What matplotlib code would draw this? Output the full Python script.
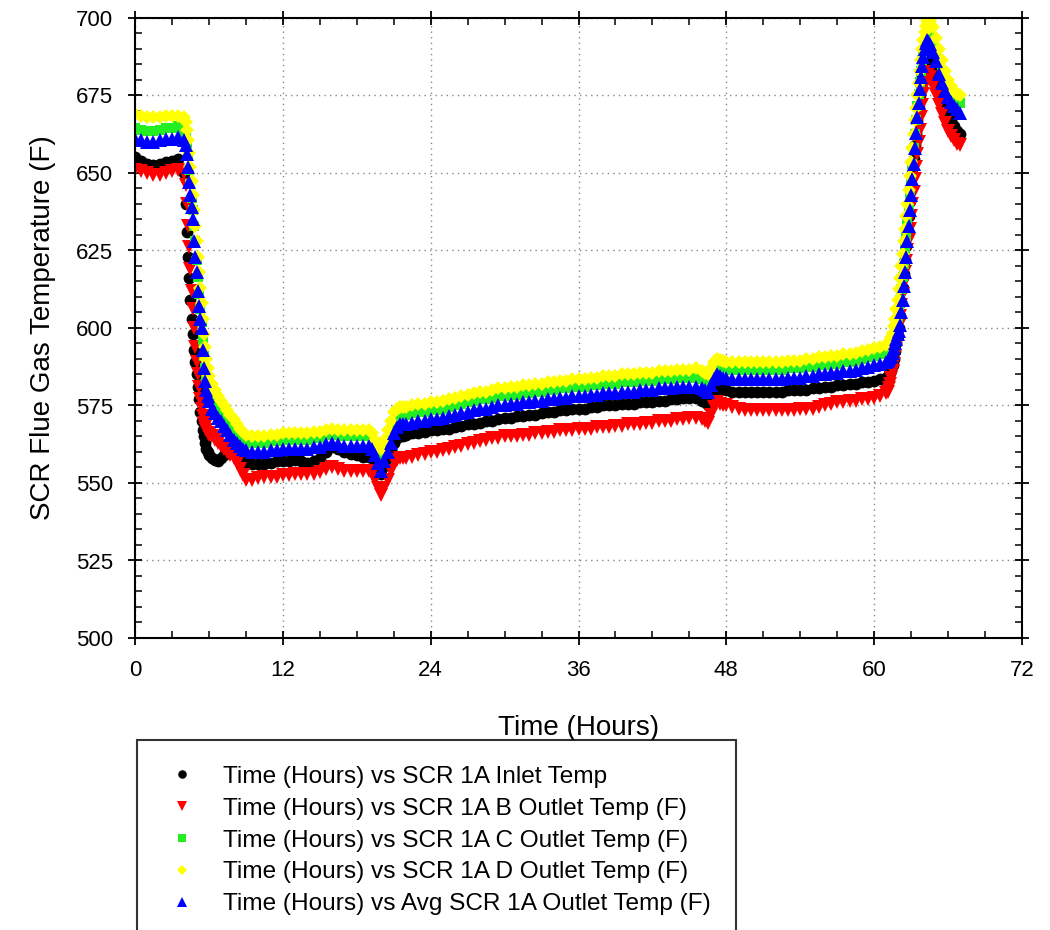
import numpy as np
import matplotlib
matplotlib.use("Agg")
import matplotlib.pyplot as plt
from matplotlib.ticker import MultipleLocator

plt.rcParams['font.family'] = ['Liberation Sans', 'DejaVu Sans']

# Sample times (hours): coarse on the plateaus, fine on the ramps and dips
hours = np.concatenate([
    np.arange(0, 4.0, 0.5),
    np.arange(4.0, 6.05, 0.1),
    np.arange(6.25, 9.01, 0.25),
    np.arange(9.5, 19.01, 0.5),
    np.arange(19.25, 21.76, 0.25),
    np.arange(22.0, 46.01, 0.5),
    np.arange(46.25, 47.76, 0.25),
    np.arange(48.0, 61.01, 0.5),
    np.arange(61.1, 64.45, 0.1),
    np.arange(64.5, 67.01, 0.25),
]).round(2)

inlet_temp = [
    655, 654, 653, 652.5, 653, 653.5, 654, 654.5,
    650, 640, 631, 623, 616, 609, 603, 598, 593, 589, 585, 581, 577, 573, 570, 567, 565, 563, 561, 560, 559,
    558, 557.5, 557, 558, 559, 560, 560, 560, 559, 558, 557, 556.5,
    556, 556, 556, 556.5, 557, 557, 557, 557.5, 557, 556.5,
    557, 558, 560, 561.5, 561, 560, 559.5, 559, 558.5, 558.5,
    558, 557, 555, 553, 555.5, 558, 560.5, 563, 564.5, 565, 565.3,
    565.5, 566, 566, 566.5, 567, 567, 567.5, 567.5, 568, 568.5,
    569, 569, 569.5, 570, 570, 570.5, 571, 571, 571.5, 571.5,
    572, 572, 572.5, 573, 573, 573.5, 573.5, 574, 574, 574,
    574.5, 574.5, 575, 575, 575, 575.5, 575.5, 575.5, 576, 576,
    576, 576.5, 576.5, 577, 577, 577.5, 577.5, 577.5, 576.5,
    576, 575, 576.5, 578, 579.5, 580.5, 580.3,
    580, 579.5, 579.5, 579.5, 579.5, 579.5, 579.5, 579.5, 579.5, 579.5,
    580, 580, 580, 580, 580.5, 580.5, 581, 581, 581.5, 581.5,
    582, 582, 582.5, 582.5, 583, 583.5, 584,
    584.5, 585, 585.5, 586.5, 588, 590, 592.5, 595, 597.5, 600, 604, 608.5, 613, 617.5, 622, 626.5, 631,
    636, 641, 645.5, 650, 654.5, 659, 663, 667, 671, 675, 678.5, 681.5, 684, 686, 687.5, 688, 687.5,
    686.5, 684, 681, 678, 675, 672, 669, 667, 665, 663.5, 662.5,
]

b_outlet = [
    651, 650.5, 650, 649.5, 649.5, 650, 650.5, 651,
    650, 646, 640, 633, 626, 619, 612, 606, 600, 594, 589, 585, 581, 577, 574, 571.5, 569.5, 568, 567, 566, 565.5,
    565, 564, 563, 562, 561, 560, 559, 558, 556.5, 554.5, 552.5, 551,
    551, 551.5, 552, 552, 552, 552.5, 552.5, 553, 553, 553,
    553, 553.5, 554.5, 555, 554.5, 554, 554, 554, 554, 554,
    553, 551, 548.5, 546, 548.5, 551, 554, 557, 557.5, 558, 558,
    558, 558.5, 559, 559.5, 560, 560, 560.5, 561, 561.5, 562,
    562.5, 563, 563.5, 564, 564.5, 564.5, 565, 565, 565, 565.5,
    565.5, 566, 566, 566.5, 566.5, 567, 567, 567, 567.5, 567.5,
    567.5, 568, 568, 568, 568.5, 568.5, 569, 569, 569, 569.5,
    569.5, 570, 570, 570, 570.5, 570.5, 571, 571, 570.5,
    570, 569.5, 572, 574.5, 576, 575.5, 575,
    575, 574.5, 574, 573.5, 573.5, 573.5, 573.5, 573.5, 573.5, 573.5,
    573.5, 573.5, 574, 574, 574, 574.5, 575, 575.5, 576, 576,
    576.5, 576.5, 577, 577, 577.5, 578, 579,
    579.5, 580.5, 582, 584, 586, 588.5, 591, 594, 597, 600.5, 604, 607.5, 611, 614.5, 618, 621.5, 625,
    628.5, 632, 636, 640, 644, 648, 652, 656, 660, 664, 668, 672, 675.5, 678.5, 681, 682.5, 682,
    681, 678, 675, 672, 669, 666, 663.5, 662, 660.5, 659.5, 659,
]

c_outlet = [
    664.5, 664, 663.5, 663.5, 664, 664.5, 664.5, 665,
    664, 662, 659, 655.5, 651, 646.5, 642, 638, 633, 628, 622, 616.5, 611, 606, 602, 596, 591, 587, 584, 581.5, 579.5,
    577, 575, 573.5, 572, 570.5, 569, 567.5, 566.5, 565.5, 564.5, 563.5, 563,
    563, 563, 563, 563.5, 563.5, 564, 564, 564, 564, 564,
    564.5, 564.5, 565.5, 566, 565.5, 565, 565, 565, 565, 565,
    564, 562, 560, 557.5, 560.5, 563.5, 566.5, 569.5, 571, 572, 572,
    572, 572.5, 573, 573, 573.5, 573.5, 574, 574.5, 575, 575.5,
    576, 576.5, 577, 577, 577.5, 578, 578, 578.5, 578.5, 579,
    579, 579.5, 579.5, 580, 580, 580.5, 580.5, 581, 581, 581,
    581.5, 581.5, 582, 582, 582, 582.5, 582.5, 582.5, 583, 583,
    583, 583.5, 583.5, 583.5, 584, 584, 584, 584, 583.5,
    583, 582.5, 584.5, 586.5, 588, 587.5, 587,
    587, 586.5, 586.5, 586.5, 586.5, 586.5, 586.5, 586.5, 586.5, 586.5,
    587, 587, 587, 587.5, 587.5, 588, 588, 588.5, 588.5, 589,
    589, 589.5, 590, 590.5, 591, 591.5, 592,
    592.5, 593, 593.5, 594.5, 595.5, 597, 599, 601, 603.5, 606, 609, 612.5, 616.5, 620.5, 625, 629.5, 634,
    638.5, 643, 648, 653, 658, 662.5, 667, 671.5, 675.5, 679.5, 683, 686.5, 689.5, 692, 694, 695, 695,
    694.5, 692.5, 689.5, 686, 683, 680, 677.5, 675.5, 674, 673, 672.5,
]

d_outlet = [
    669, 668.5, 668, 668, 668, 668.5, 668.5, 668.5,
    668, 666.5, 664, 660.5, 656.5, 652, 647.5, 643, 638, 633, 628, 623, 618, 613, 608, 603, 598, 594, 590, 587, 584.5,
    582, 580, 578, 576.5, 575, 573.5, 572, 570.5, 569, 567.5, 566.5, 565.5,
    565, 565, 565, 565.5, 565.5, 566, 566, 566, 566, 566,
    566.5, 566.5, 567, 567.5, 567, 567, 567, 567, 567, 567,
    566, 564, 562.5, 561, 564, 567, 570, 573, 574, 574.5, 574.5,
    574.5, 575, 575.5, 575.5, 576, 576, 576.5, 577, 577.5, 578,
    578.5, 579, 579.5, 579.5, 580, 580.5, 580.5, 581, 581, 581.5,
    581.5, 582, 582, 582.5, 582.5, 583, 583, 583.5, 583.5, 583.5,
    584, 584, 584.5, 584.5, 584.5, 585, 585, 585, 585.5, 585.5,
    585.5, 586, 586, 586, 586.5, 586.5, 586.5, 587, 586,
    585.5, 585, 587, 589, 590, 589.7, 589.3,
    589, 589, 589, 589, 589, 589, 589, 589, 589, 589,
    589.5, 589.5, 589.5, 590, 590, 590.5, 590.5, 591, 591, 591.5,
    591.5, 592, 592.5, 593, 593.5, 594, 594.5,
    595, 595.5, 596, 597, 598.5, 600.5, 603, 606, 609, 612.5, 616, 620, 624, 628, 632, 636, 640,
    644.5, 649, 653.5, 658, 662.5, 667, 671, 675, 679, 683, 686.5, 690, 693, 695.5, 697.5, 699, 699.5,
    699, 697, 693.5, 690, 686.5, 683, 680, 678, 676.5, 675.5, 675,
]

avg_outlet = [
    661, 660.5, 660, 660, 660.5, 661, 661, 661.5,
    660.5, 659, 656, 652, 647, 643, 639, 635, 628, 623, 618, 612, 607, 603, 600, 593, 587, 583, 580, 578, 576.5,
    574, 572.5, 571, 570, 568.5, 567, 565.5, 564, 563, 562, 561, 560.5,
    560, 560, 560, 560.5, 560.5, 561, 561, 561, 561, 561,
    561.5, 561.5, 562.5, 563, 562.5, 562, 562, 562, 562, 562,
    561, 559, 556.5, 554, 557, 560, 563, 566, 568, 569, 569,
    569, 569.5, 570, 570, 570.5, 570.5, 571, 571.5, 572, 572.5,
    573, 573.5, 574, 574, 574.5, 575, 575, 575.5, 575.5, 576,
    576, 576.5, 576.5, 577, 577, 577.5, 577.5, 578, 578, 578,
    578.5, 578.5, 579, 579, 579, 579.5, 579.5, 579.5, 580, 580,
    580, 580.5, 580.5, 580.5, 581, 581, 581, 581, 580.5,
    580, 579.5, 581.5, 583.5, 585, 584.5, 584,
    584, 583.5, 583.5, 583.5, 583.5, 583.5, 583.5, 583.5, 583.5, 583.5,
    584, 584, 584, 584.5, 584.5, 585, 585, 585.5, 585.5, 586,
    586, 586.5, 587, 587.5, 588, 588.5, 589,
    589.5, 590, 590.5, 591, 592, 593.5, 595, 596.5, 598, 599, 601, 605, 609, 613.5, 618, 623, 628,
    633, 638, 643, 648, 653, 658, 663, 668, 672.5, 677, 681, 684.5, 687.5, 690, 692, 693, 692.5,
    691.5, 689, 686, 682, 679, 676.5, 674.5, 673, 671.5, 670.5, 669.5,
]

series = [
    ("Time (Hours) vs SCR 1A Inlet Temp", inlet_temp, "o", "#000000", 8.5),
    ("Time (Hours) vs SCR 1A B Outlet Temp (F)", b_outlet, "v", "#ff0000", 9.5),
    ("Time (Hours) vs SCR 1A C Outlet Temp (F)", c_outlet, "s", "#22ee22", 7.5),
    ("Time (Hours) vs SCR 1A D Outlet Temp (F)", d_outlet, "D", "#ffff00", 7.5),
    ("Time (Hours) vs Avg SCR 1A Outlet Temp (F)", avg_outlet, "^", "#0000ff", 9.5),
]

fig = plt.figure(figsize=(10.5, 9.3), dpi=100)
ax = fig.add_axes([135 / 1050, 1 - 638 / 930, 887 / 1050, 620 / 930])

for label, vals, mk, col, ms in series:
    assert len(vals) == len(hours), (label, len(vals), len(hours))
    ax.plot(hours, vals, linestyle="none", marker=mk, color=col,
            markersize=ms, markeredgewidth=0, label=label)

ax.set_xlim(0, 72)
ax.set_ylim(500, 700)
ax.xaxis.set_major_locator(MultipleLocator(12))
ax.xaxis.set_minor_locator(MultipleLocator(3))
ax.yaxis.set_major_locator(MultipleLocator(25))
ax.yaxis.set_minor_locator(MultipleLocator(5))
ax.tick_params(which="major", direction="inout", length=10, width=1.3,
               top=True, right=True, labelsize=16, pad=11)
ax.tick_params(which="minor", direction="in", length=5, width=1.1,
               top=True, right=True)
ax.grid(True, which="major", linestyle=(0, (1, 3)), color="#888888", linewidth=1.0)
for sp in ax.spines.values():
    sp.set_linewidth(1.5)

ax.set_xlabel("Time (Hours)", fontsize=20, labelpad=24)
ax.set_ylabel("SCR Flue Gas Temperature (F)", fontsize=20, labelpad=14)

leg = fig.legend(loc="upper left", bbox_to_anchor=(137 / 1050, 1 - 740 / 930),
                 borderaxespad=0, fontsize=17.6, frameon=True, fancybox=False,
                 borderpad=1.05, labelspacing=0.4, handlelength=1.55,
                 handletextpad=0.9, markerscale=0.72)
leg.get_frame().set_edgecolor("black")
leg.get_frame().set_linewidth(1.5)

fig.savefig("out.png", dpi=100)
